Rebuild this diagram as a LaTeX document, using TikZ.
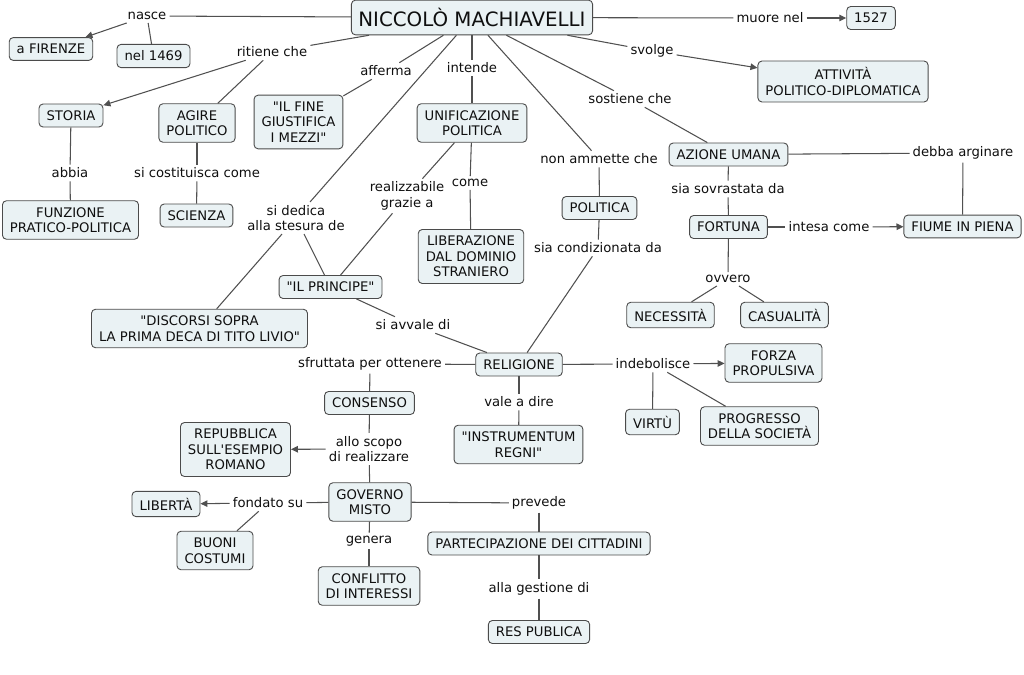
\documentclass[tikz,border=0pt]{standalone}
\usepackage{fontspec}
\setmainfont{DejaVu Sans}[Ligatures=TeXOff]
\usetikzlibrary{arrows.meta}
\definecolor{fillc}{RGB}{234,242,244}
\definecolor{bordc}{RGB}{75,75,75}
\definecolor{linkc}{RGB}{80,80,80}
\definecolor{txtc}{RGB}{15,15,15}
\tikzset{
  concept/.style={draw=bordc, fill=fillc, rounded corners=4pt, line width=0.9pt, align=center,
    inner xsep=7.5pt, inner ysep=6.5pt, text=txtc, font=\fontsize{13.2}{15.5}\selectfont},
  ttl/.style={font=\fontsize{19.8}{22}\selectfont, inner xsep=7pt, inner ysep=8pt},
  lbl/.style={inner sep=3pt, align=center, text=txtc, font=\fontsize{13.2}{15.5}\selectfont},
  link/.style={draw=linkc, line width=1.05pt},
  arr/.style={link, -{Triangle[length=7pt,width=6.5pt]}}
}
\begin{document}
\begin{tikzpicture}[x=1pt,y=-1pt]
\fill[white] (0,0) rectangle (1024,674);
\useasboundingbox (0,0) rectangle (1024,674);
% concepts and labels
\node[concept,ttl] (nm) at (472,17.5) {NICCOLÒ MACHIAVELLI};
\node[lbl] (nasce) at (147,16) {nasce};
\node[concept] (fir) at (51,49) {a FIRENZE};
\node[concept] (n1469) at (153.5,56) {nel 1469};
\node[lbl] (muore) at (770,18) {muore nel};
\node[concept] (y1527) at (871,18) {1527};
\node[lbl] (svolge) at (652,51) {svolge};
\node[concept] (att) at (843,81.5) {ATTIVITÀ\\POLITICO-DIPLOMATICA};
\node[lbl] (ritiene) at (272,52) {ritiene che};
\node[concept] (storia) at (71,115.5) {STORIA};
\node[concept] (agire) at (197,123) {AGIRE\\POLITICO};
\node[lbl] (afferma) at (386,71) {afferma};
\node[concept] (fine) at (298.5,122) {"IL FINE\\GIUSTIFICA\\I MEZZI"};
\node[lbl] (intende) at (472,68) {intende};
\node[concept] (unif) at (472,123) {UNIFICAZIONE\\POLITICA};
\node[lbl] (sostiene) at (630,99) {sostiene che};
\node[concept] (azione) at (728.5,154.5) {AZIONE UMANA};
\node[lbl] (debba) at (963,153) {debba arginare};
\node[lbl] (nonamm) at (599,159) {non ammette che};
\node[concept] (politica) at (599.5,208) {POLITICA};
\node[lbl] (sovr) at (728,189) {sia sovrastata da};
\node[concept] (fortuna) at (728.5,227) {FORTUNA};
\node[lbl] (intesa) at (829,227) {intesa come};
\node[concept] (fiume) at (962.5,226.5) {FIUME IN PIENA};
\node[lbl] (abbia) at (70,173) {abbia};
\node[concept] (funz) at (70.5,220) {FUNZIONE\\PRATICO-POLITICA};
\node[lbl] (costit) at (197,173) {si costituisca come};
\node[concept] (scienza) at (196.5,215.5) {SCIENZA};
\node[lbl] (dedica) at (296,218) {si dedica\\alla stesura de};
\node[lbl] (realiz) at (407,196) {realizzabile\\grazie a};
\node[lbl] (come) at (470,183) {come};
\node[concept] (liber) at (471,256.5) {LIBERAZIONE\\DAL DOMINIO\\STRANIERO};
\node[lbl] (condiz) at (598,248) {sia condizionata da};
\node[lbl] (ovvero) at (728,279) {ovvero};
\node[concept] (neces) at (670.5,315) {NECESSITÀ};
\node[concept] (casual) at (784.5,315) {CASUALITÀ};
\node[concept] (principe) at (330.5,287) {"IL PRINCIPE"};
\node[concept] (discorsi) at (199.5,328.5) {"DISCORSI SOPRA\\LA PRIMA DECA DI TITO LIVIO"};
\node[lbl] (avvale) at (413,325) {si avvale di};
\node[concept] (relig) at (519,364.5) {RELIGIONE};
\node[lbl] (sfrutt) at (370,364) {sfruttata per ottenere};
\node[lbl] (indeb) at (653,364) {indebolisce};
\node[concept] (forza) at (773.5,363) {FORZA\\PROPULSIVA};
\node[concept] (virtu) at (652.5,422) {VIRTÙ};
\node[concept] (progr) at (759.5,426) {PROGRESSO\\DELLA SOCIETÀ};
\node[lbl] (vale) at (519,402) {vale a dire};
\node[concept] (instr) at (518.5,444.5) {"INSTRUMENTUM\\REGNI"};
\node[concept] (consenso) at (369.5,403) {CONSENSO};
\node[lbl] (scopo) at (369,449) {allo scopo\\di realizzare};
\node[concept] (repub) at (235.5,449.5) {REPUBBLICA\\SULL'ESEMPIO\\ROMANO};
\node[concept] (governo) at (370,502) {GOVERNO\\MISTO};
\node[lbl] (fondato) at (268,503) {fondato su};
\node[concept] (liberta) at (166,504) {LIBERTÀ};
\node[concept] (buoni) at (215,550.5) {BUONI\\COSTUMI};
\node[lbl] (genera) at (369,541) {genera};
\node[concept] (confl) at (369,586) {CONFLITTO\\DI INTERESSI};
\node[lbl] (prevede) at (539,503) {prevede};
\node[concept] (partec) at (539,543.5) {PARTECIPAZIONE DEI CITTADINI};
\node[lbl] (gestione) at (539,589) {alla gestione di};
\node[concept] (res) at (539,632) {RES PUBLICA};
% connectors
\draw[link] (nm) -- (nasce);
\draw[arr] (nasce) -- (fir);
\draw[link] (nasce) -- (n1469);
\draw[link] (nm) -- (muore);
\draw[arr] (muore) -- (y1527);
\draw[link] (nm) -- (svolge);
\draw[arr] (svolge) -- (att);
\draw[link] (nm) -- (ritiene);
\draw[arr] (ritiene) -- (storia);
\draw[link] (ritiene) -- (agire);
\draw[link] (nm) -- (afferma);
\draw[link] (afferma) -- (fine);
\draw[link] (nm) -- (intende);
\draw[link] (intende) -- (unif);
\draw[link] (nm) -- (sostiene);
\draw[link] (sostiene) -- (azione);
\draw[link] (nm) -- (nonamm);
\draw[link] (nonamm) -- (politica);
\draw[link] (nm) -- (dedica);
\draw[link] (dedica) -- (principe);
\draw[link] (dedica) -- (discorsi);
\draw[link] (storia) -- (abbia);
\draw[link] (abbia) -- (funz);
\draw[link] (agire) -- (costit);
\draw[link] (costit) -- (scienza);
\draw[link] (unif) -- (come);
\draw[link] (come) -- (liber);
\draw[link] (unif) -- (realiz);
\draw[link] (realiz) -- (principe);
\draw[link] (azione) -- (debba);
\draw[link] (debba) -- (fiume);
\draw[link] (azione) -- (sovr);
\draw[link] (sovr) -- (fortuna);
\draw[link] (fortuna) -- (intesa);
\draw[arr] (intesa) -- (fiume);
\draw[link] (fortuna) -- (ovvero);
\draw[link] (ovvero) -- (neces);
\draw[link] (ovvero) -- (casual);
\draw[link] (politica) -- (condiz);
\draw[link] (condiz) -- (relig);
\draw[link] (principe) -- (avvale);
\draw[link] (avvale) -- (relig);
\draw[link] (relig) -- (sfrutt);
\draw[link] (sfrutt) -- (consenso);
\draw[link] (relig) -- (vale);
\draw[link] (vale) -- (instr);
\draw[link] (relig) -- (indeb);
\draw[arr] (indeb) -- (forza);
\draw[link] (indeb) -- (virtu);
\draw[link] (indeb) -- (progr);
\draw[link] (consenso) -- (scopo);
\draw[arr] (scopo) -- (repub);
\draw[link] (scopo) -- (governo);
\draw[link] (governo) -- (fondato);
\draw[arr] (fondato) -- (liberta);
\draw[link] (fondato) -- (buoni);
\draw[link] (governo) -- (genera);
\draw[link] (genera) -- (confl);
\draw[link] (governo) -- (prevede);
\draw[link] (prevede) -- (partec);
\draw[link] (partec) -- (gestione);
\draw[link] (gestione) -- (res);
\end{tikzpicture}
\end{document}
